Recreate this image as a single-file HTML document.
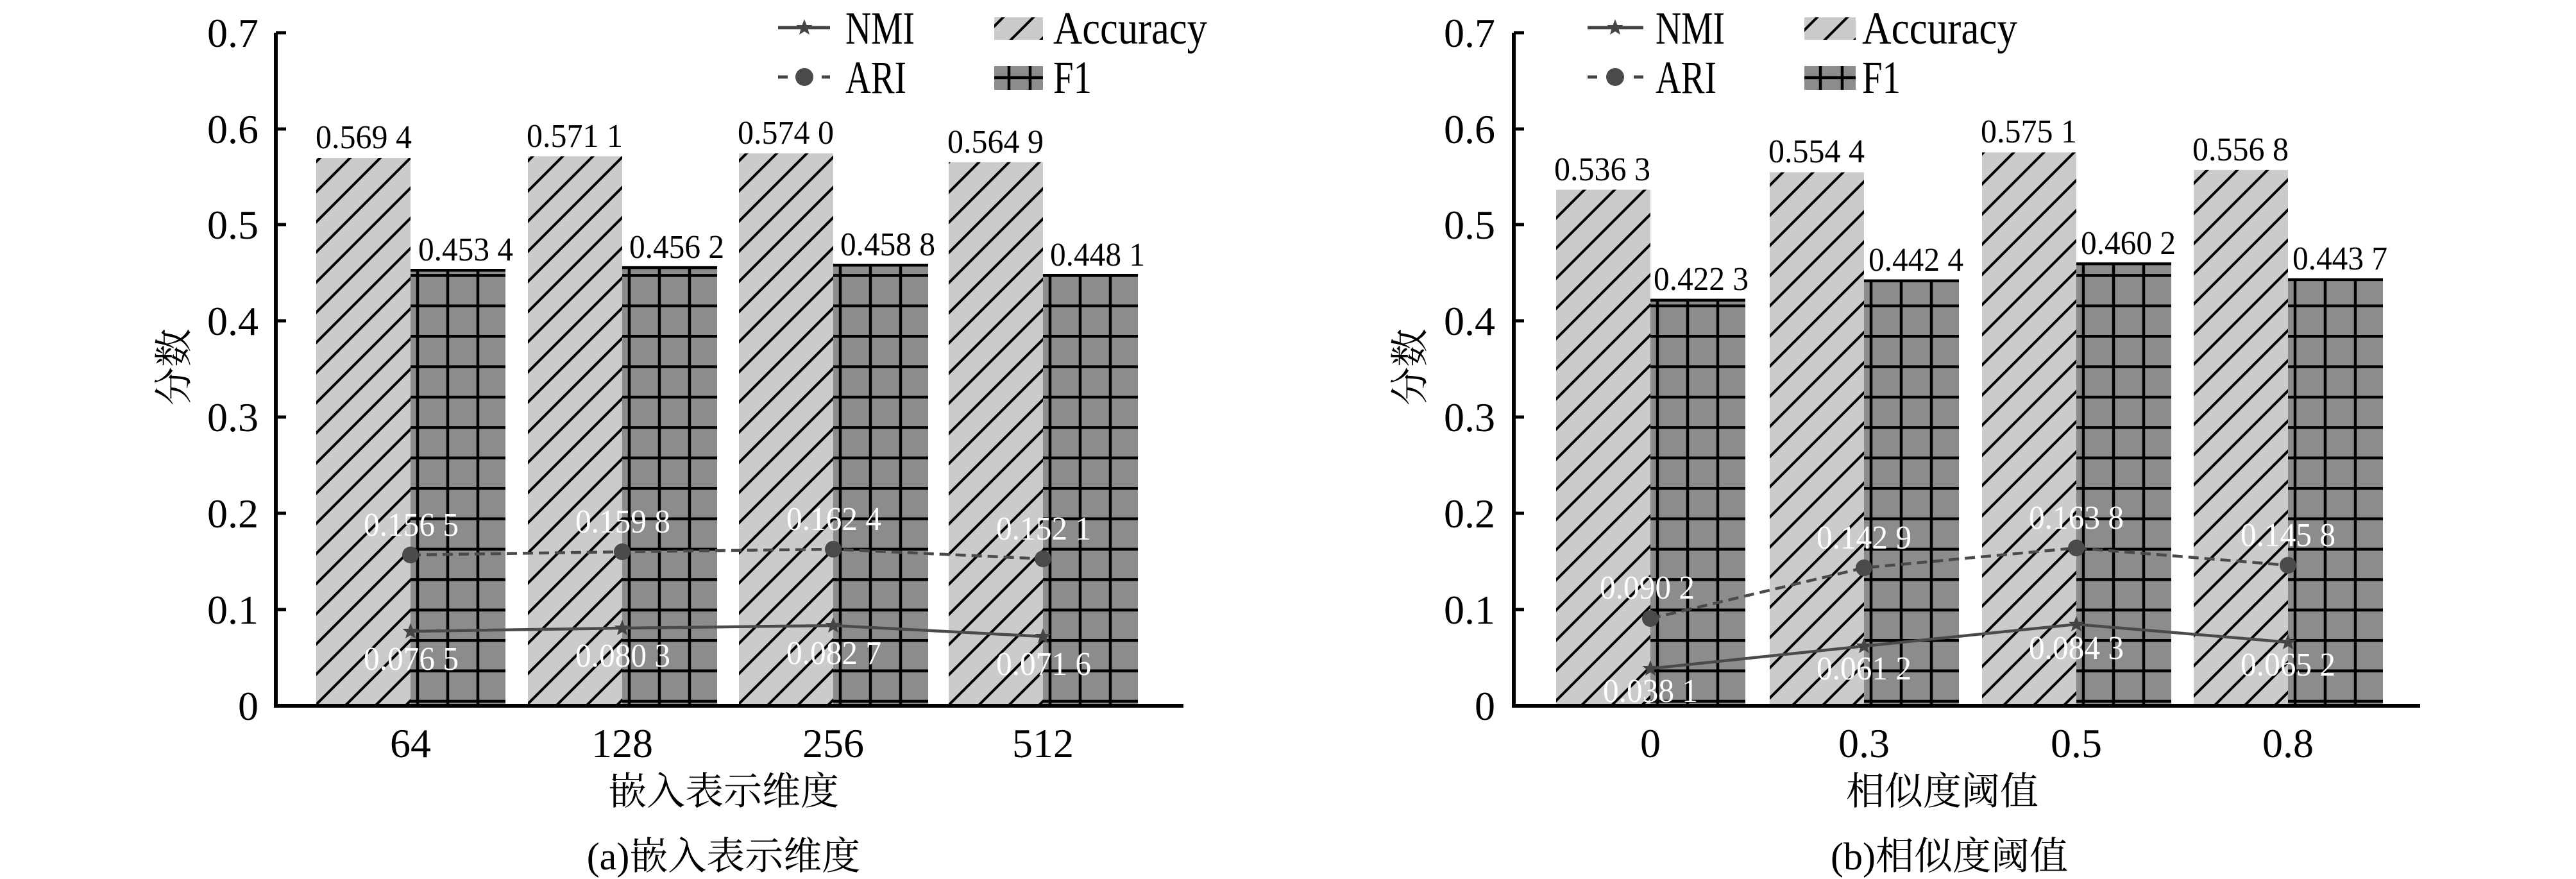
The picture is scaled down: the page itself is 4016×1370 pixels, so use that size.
<!DOCTYPE html>
<html><head><meta charset="utf-8"><style>
html,body{margin:0;padding:0;background:#fff;}
svg{display:block;}
text{font-family:"Liberation Serif","Noto Serif CJK SC",serif;fill:#000;}
.cjk{font-family:"Liberation Serif","Noto Serif CJK SC","Noto Sans CJK SC",serif;}
.w{fill:#fff;}
</style></head><body>
<svg id="s" width="4016" height="1370" viewBox="0 0 4016 1370" xmlns="http://www.w3.org/2000/svg" font-family="Liberation Serif, Noto Serif CJK SC, serif">
<defs>
<g id="star"><polygon points="0,-13 3.5,-4 12.5,-4 5.5,2 8,11 0,6 -8,11 -5.5,2 -12.5,-4 -3.5,-4" fill="#444"/></g>
</defs>
<g id="bars"></g>

<!-- LEFT CHART -->
<g>
<g font-size="52">
<text x="567" y="231" text-anchor="middle" textLength="150" lengthAdjust="spacingAndGlyphs">0.569 4</text>
<text x="726" y="406" text-anchor="middle" textLength="148" lengthAdjust="spacingAndGlyphs">0.453 4</text>
<text x="896" y="229" text-anchor="middle" textLength="150" lengthAdjust="spacingAndGlyphs">0.571 1</text>
<text x="1055" y="402" text-anchor="middle" textLength="148" lengthAdjust="spacingAndGlyphs">0.456 2</text>
<text x="1225" y="224" text-anchor="middle" textLength="150" lengthAdjust="spacingAndGlyphs">0.574 0</text>
<text x="1384" y="398" text-anchor="middle" textLength="148" lengthAdjust="spacingAndGlyphs">0.458 8</text>
<text x="1552" y="238" text-anchor="middle" textLength="150" lengthAdjust="spacingAndGlyphs">0.564 9</text>
<text x="1711" y="414" text-anchor="middle" textLength="148" lengthAdjust="spacingAndGlyphs">0.448 1</text>
</g>

<polyline points="640,865 970,860 1299,856 1626,871" fill="none" stroke="#4a4a4a" stroke-width="4.5" stroke-dasharray="16,9"/>
<polyline points="640,984 970,979 1299,975 1626,992" fill="none" stroke="#4a4a4a" stroke-width="4.5"/>
<circle cx="640" cy="865" r="13" fill="#4a4a4a"/><circle cx="970" cy="860" r="13" fill="#4a4a4a"/><circle cx="1299" cy="856" r="13" fill="#4a4a4a"/><circle cx="1626" cy="871" r="13" fill="#4a4a4a"/>
<use href="#star" x="640" y="984"/><use href="#star" x="970" y="979"/><use href="#star" x="1299" y="975"/><use href="#star" x="1626" y="992"/>
<g font-size="52">
<text class="w" x="641" y="835" text-anchor="middle" textLength="148" lengthAdjust="spacingAndGlyphs">0.156 5</text>
<text class="w" x="971" y="830" text-anchor="middle" textLength="148" lengthAdjust="spacingAndGlyphs">0.159 8</text>
<text class="w" x="1300" y="826" text-anchor="middle" textLength="148" lengthAdjust="spacingAndGlyphs">0.162 4</text>
<text class="w" x="1627" y="841" text-anchor="middle" textLength="148" lengthAdjust="spacingAndGlyphs">0.152 1</text>
<text class="w" x="641" y="1044" text-anchor="middle" textLength="148" lengthAdjust="spacingAndGlyphs">0.076 5</text>
<text class="w" x="971" y="1039" text-anchor="middle" textLength="148" lengthAdjust="spacingAndGlyphs">0.080 3</text>
<text class="w" x="1300" y="1035" text-anchor="middle" textLength="148" lengthAdjust="spacingAndGlyphs">0.082 7</text>
<text class="w" x="1627" y="1052" text-anchor="middle" textLength="148" lengthAdjust="spacingAndGlyphs">0.071 6</text>
</g>

<path d="M430,51 V1100 M427,1100 H1845" stroke="#000" stroke-width="6" fill="none"/>
<path d="M430,51 H446 M430,201 H446 M430,350 H446 M430,500 H446 M430,650 H446 M430,800 H446 M430,950 H446" stroke="#000" stroke-width="5"/>
<g font-size="64" text-anchor="end">
<text x="403" y="73">0.7</text><text x="403" y="223">0.6</text><text x="403" y="372">0.5</text><text x="403" y="522">0.4</text><text x="403" y="672">0.3</text><text x="403" y="822">0.2</text><text x="403" y="972">0.1</text><text x="403" y="1122">0</text>
</g>
<g font-size="64" text-anchor="middle">
<text x="640" y="1180">64</text><text x="970" y="1180">128</text><text x="1299" y="1180">256</text><text x="1626" y="1180">512</text>
</g>
<text class="cjk" x="1128" y="1254" font-size="60" text-anchor="middle">嵌入表示维度</text>
<text class="cjk" x="1128" y="1355" font-size="60" text-anchor="middle">(a)嵌入表示维度</text>
<text class="cjk" font-size="60" text-anchor="middle" transform="translate(292,572) rotate(-90)">分数</text>

<path d="M1213,43 H1294" stroke="#444" stroke-width="5"/><use href="#star" x="1254" y="43"/>
<path d="M1213,120 H1228 M1281,120 H1294" stroke="#444" stroke-width="5"/><circle cx="1254" cy="120" r="14" fill="#4a4a4a"/>
<text x="1318" y="68" font-size="72" textLength="108" lengthAdjust="spacingAndGlyphs">NMI</text>
<text x="1318" y="145" font-size="72" textLength="95" lengthAdjust="spacingAndGlyphs">ARI</text>
<text x="1642" y="68" font-size="72" textLength="240" lengthAdjust="spacingAndGlyphs">Accuracy</text>
<text x="1642" y="145" font-size="72" textLength="60" lengthAdjust="spacingAndGlyphs">F1</text>
</g>

<!-- RIGHT CHART -->
<g>
<g font-size="52">
<text x="2498" y="281" text-anchor="middle" textLength="150" lengthAdjust="spacingAndGlyphs">0.536 3</text>
<text x="2652" y="452" text-anchor="middle" textLength="148" lengthAdjust="spacingAndGlyphs">0.422 3</text>
<text x="2832" y="253" text-anchor="middle" textLength="150" lengthAdjust="spacingAndGlyphs">0.554 4</text>
<text x="2987" y="422" text-anchor="middle" textLength="148" lengthAdjust="spacingAndGlyphs">0.442 4</text>
<text x="3163" y="222" text-anchor="middle" textLength="150" lengthAdjust="spacingAndGlyphs">0.575 1</text>
<text x="3318" y="396" text-anchor="middle" textLength="148" lengthAdjust="spacingAndGlyphs">0.460 2</text>
<text x="3493" y="250" text-anchor="middle" textLength="150" lengthAdjust="spacingAndGlyphs">0.556 8</text>
<text x="3648" y="420" text-anchor="middle" textLength="148" lengthAdjust="spacingAndGlyphs">0.443 7</text>
</g>

<polyline points="2573,964 2906,885 3237,854 3567,881" fill="none" stroke="#4a4a4a" stroke-width="4.5" stroke-dasharray="16,9"/>
<polyline points="2573,1042 2906,1007 3237,973 3567,1001" fill="none" stroke="#4a4a4a" stroke-width="4.5"/>
<circle cx="2573" cy="964" r="13" fill="#4a4a4a"/><circle cx="2906" cy="885" r="13" fill="#4a4a4a"/><circle cx="3237" cy="854" r="13" fill="#4a4a4a"/><circle cx="3567" cy="881" r="13" fill="#4a4a4a"/>
<use href="#star" x="2573" y="1042"/><use href="#star" x="2906" y="1007"/><use href="#star" x="3237" y="973"/><use href="#star" x="3567" y="1001"/>
<g font-size="52">
<text class="w" x="2568" y="933" text-anchor="middle" textLength="148" lengthAdjust="spacingAndGlyphs">0.090 2</text>
<text class="w" x="2906" y="855" text-anchor="middle" textLength="148" lengthAdjust="spacingAndGlyphs">0.142 9</text>
<text class="w" x="3237" y="824" text-anchor="middle" textLength="148" lengthAdjust="spacingAndGlyphs">0.163 8</text>
<text class="w" x="3567" y="851" text-anchor="middle" textLength="148" lengthAdjust="spacingAndGlyphs">0.145 8</text>
<text class="w" x="2573" y="1094" text-anchor="middle" textLength="148" lengthAdjust="spacingAndGlyphs">0.038 1</text>
<text class="w" x="2906" y="1059" text-anchor="middle" textLength="148" lengthAdjust="spacingAndGlyphs">0.061 2</text>
<text class="w" x="3237" y="1027" text-anchor="middle" textLength="148" lengthAdjust="spacingAndGlyphs">0.084 3</text>
<text class="w" x="3567" y="1053" text-anchor="middle" textLength="148" lengthAdjust="spacingAndGlyphs">0.065 2</text>
</g>

<path d="M2360,51 V1100 M2357,1100 H3773" stroke="#000" stroke-width="6" fill="none"/>
<path d="M2360,51 H2376 M2360,201 H2376 M2360,350 H2376 M2360,500 H2376 M2360,650 H2376 M2360,800 H2376 M2360,950 H2376" stroke="#000" stroke-width="5"/>
<g font-size="64" text-anchor="end">
<text x="2331" y="73">0.7</text><text x="2331" y="223">0.6</text><text x="2331" y="372">0.5</text><text x="2331" y="522">0.4</text><text x="2331" y="672">0.3</text><text x="2331" y="822">0.2</text><text x="2331" y="972">0.1</text><text x="2331" y="1122">0</text>
</g>
<g font-size="64" text-anchor="middle">
<text x="2573" y="1180">0</text><text x="2906" y="1180">0.3</text><text x="3237" y="1180">0.5</text><text x="3567" y="1180">0.8</text>
</g>
<text class="cjk" x="3028" y="1254" font-size="60" text-anchor="middle">相似度阈值</text>
<text class="cjk" x="3039" y="1355" font-size="60" text-anchor="middle">(b)相似度阈值</text>
<text class="cjk" font-size="60" text-anchor="middle" transform="translate(2219,572) rotate(-90)">分数</text>

<path d="M2475,43 H2562" stroke="#444" stroke-width="5"/><use href="#star" x="2518" y="43"/>
<path d="M2475,120 H2490 M2547,120 H2562" stroke="#444" stroke-width="5"/><circle cx="2518" cy="120" r="14" fill="#4a4a4a"/>
<text x="2581" y="68" font-size="72" textLength="108" lengthAdjust="spacingAndGlyphs">NMI</text>
<text x="2581" y="145" font-size="72" textLength="95" lengthAdjust="spacingAndGlyphs">ARI</text>
<text x="2903" y="68" font-size="72" textLength="242" lengthAdjust="spacingAndGlyphs">Accuracy</text>
<text x="2903" y="145" font-size="72" textLength="60" lengthAdjust="spacingAndGlyphs">F1</text>
</g>
</svg>
<script>
(function(){
var NS="http://www.w3.org/2000/svg";
var g=document.getElementById("bars");
var uid=0;
function el(t,a,p){var e=document.createElementNS(NS,t);for(var k in a)e.setAttribute(k,a[k]);(p||g).appendChild(e);return e;}
function hatch(x,y,w,h){
  var id="c"+(uid++);
  var cp=el("clipPath",{id:id});el("rect",{x:x,y:y,width:w,height:h},cp);
  el("rect",{x:x,y:y,width:w,height:h,fill:"#cbcbcb"});
  var gg=el("g",{"clip-path":"url(#"+id+")"});
  var d="";
  for(var c=-2000;c<4000;c+=47){ // lines x+y = c (slope /), anchored
    var s=c+1100; // offset so lines consistent
    // line: y = s - x
    var x1=x-5,x2=x+w+5;
    var y1=s-x1,y2=s-x2;
    if(Math.max(y1,y2)<y-5||Math.min(y1,y2)>y+h+5)continue;
    d+="M"+x1+","+y1+"L"+x2+","+y2;
  }
  el("path",{d:d,stroke:"#000","stroke-width":4,fill:"none"},gg);
}
function grid(x,y,w,h){
  el("rect",{x:x,y:y,width:w,height:h,fill:"#8c8c8c"});
  var d="";
  for(var xx=x+11;xx<x+w;xx+=47)d+="M"+xx+","+y+"V"+(y+h);
  for(var yy=1100-7;yy>y;yy-=47.4)d+="M"+x+","+yy+"H"+(x+w);
  d+="M"+x+","+(y+1.5)+"H"+(x+w);
  el("path",{d:d,stroke:"#000","stroke-width":4.5,fill:"none"});
}
var Y=function(v){return 1099-1498*v;};
var L={cx:[640,970,1299,1626],a:[.5694,.5711,.5740,.5649],f:[.4534,.4562,.4588,.4481]};
var R={cx:[2573,2906,3237,3567],a:[.5363,.5544,.5751,.5568],f:[.4223,.4424,.4602,.4437]};
[L,R].forEach(function(S){
  for(var i=0;i<4;i++){
    var ya=Y(S.a[i]),yf=Y(S.f[i]);
    hatch(S.cx[i]-147,ya,147,1100-ya);
    grid(S.cx[i],yf,148,1100-yf);
  }
});
// legend patches
hatch(1550,27,76,35);hatch(2813,27,80,35);
el("rect",{x:1550,y:103,width:76,height:37,fill:"#8c8c8c"});
el("path",{d:"M1550,121H1626M1573,103V140M1606,103V140",stroke:"#000","stroke-width":4.5});
el("rect",{x:2813,y:103,width:80,height:37,fill:"#8c8c8c"});
el("path",{d:"M2813,121H2893M2838,103V140M2872,103V140",stroke:"#000","stroke-width":4.5});
})();
</script>
</body></html>
